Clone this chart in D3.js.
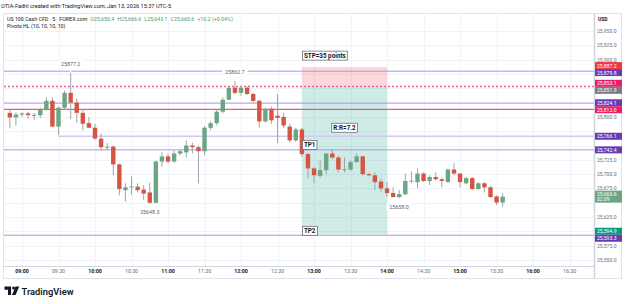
<!DOCTYPE html>
<html>
<head>
<meta charset="utf-8">
<script src="https://cdn.jsdelivr.net/npm/d3@7"></script>
<style>
  body { margin: 0; background: #fff; }
  svg { display: block; font-family: Roboto, "Noto Sans", sans-serif; }
</style>
</head>
<body>
<div id="container"></div>
<script>
// 5 minute bars, US 100 Cash CFD, Jan 13 2026, first bar 08:50
const startTime = new Date(2026, 0, 13, 8, 50);
const barMinutes = 5;

const opens = [25807, 25799, 25804, 25806, 25803, 25803, 25813, 25828, 25783, 25816,
  25842, 25825, 25807, 25789, 25781, 25762, 25747, 25748, 25717, 25672,
  25678, 25678, 25673, 25668, 25650, 25722, 25731, 25722, 25736, 25738,
  25750, 25747, 25740, 25781, 25789, 25809, 25830, 25851, 25842, 25851,
  25840, 25828, 25792, 25814, 25802, 25800, 25783, 25759, 25778, 25735,
  25710, 25697, 25707, 25736, 25729, 25708, 25708, 25721, 25731, 25700,
  25698, 25687, 25675, 25667, 25660, 25665, 25688, 25686, 25701, 25688,
  25695, 25691, 25686, 25708, 25701, 25684, 25693, 25674, 25684, 25677,
  25661, 25650.4];
const highs = [25812, 25808, 25808, 25809, 25807, 25816, 25834, 25834, 25818, 25846,
  25877.2, 25832, 25814, 25800, 25788, 25771, 25754, 25750, 25718, 25684,
  25696, 25684, 25681, 25685, 25724, 25738, 25736, 25741, 25744, 25759,
  25755, 25750, 25784, 25792, 25813, 25834, 25852, 25862.7, 25854, 25853,
  25842, 25830, 25816, 25818, 25840, 25807, 25788, 25781, 25781, 25737,
  25712, 25724, 25737, 25743, 25732, 25729, 25724, 25736, 25732, 25702,
  25703, 25692, 25686, 25677, 25672, 25701, 25705, 25710, 25703, 25698,
  25703, 25694, 25710, 25719, 25702, 25695, 25695, 25686, 25686, 25679,
  25663, 25666.6];
const lows = [25780, 25785, 25800, 25797, 25795, 25798, 25811, 25782, 25769, 25813,
  25796, 25790, 25776, 25780, 25760, 25741, 25741, 25698, 25663, 25652,
  25664, 25668, 25655, 25648.3, 25649, 25713, 25719, 25720, 25733, 25729,
  25736, 25684, 25733, 25777, 25785, 25806, 25829, 25840, 25837, 25838,
  25825, 25781, 25790, 25788, 25754, 25780, 25755, 25756, 25730, 25693,
  25684, 25694, 25700, 25726, 25703, 25703, 25706, 25720, 25698, 25696,
  25672, 25669, 25660, 25659, 25658, 25663, 25684, 25675, 25686, 25681,
  25689, 25677, 25686, 25698, 25677, 25682, 25672, 25672, 25668, 25658.5,
  25646, 25643.1];
const closes = [25799, 25804, 25806, 25803, 25803.5, 25813, 25828, 25783, 25816, 25842,
  25825, 25807, 25788, 25781, 25762, 25747, 25748, 25717, 25674, 25677,
  25678.5, 25672, 25666, 25650, 25722, 25731, 25722, 25736, 25740, 25750,
  25747, 25740, 25781, 25789, 25809, 25830, 25851, 25842, 25851, 25840,
  25828, 25792, 25814, 25794, 25798, 25785, 25759, 25778, 25735, 25710,
  25698, 25707, 25736, 25729, 25708, 25708.5, 25721, 25731, 25700, 25698,
  25686, 25675, 25667, 25660, 25665, 25688, 25688.5, 25701, 25688, 25695,
  25691, 25688, 25708, 25701, 25686, 25693, 25674, 25684, 25677, 25660,
  25650.4, 25660.6];

// Pivots HL (10,10,10,10) labels: bar index and kind
const pivotBars = [10, 23, 37, 64];
const pivotKinds = ["high", "low", "high", "low"];

// time and price ticks
const timeTicks = ["09:00", "09:30", "10:00", "10:30", "11:00", "11:30", "12:00", "12:30",
  "13:00", "13:30", "14:00", "14:30", "15:00", "15:30", "16:00", "16:30"];
const priceTicks = d3.range(25550, 25951, 25);

// horizontal levels drawn on the chart
const levelPrices = [25879.8, 25853.1, 25824.1, 25813.0, 25766.1, 25742.4, 25593.3];
const levelColors = ["#a897dc", "#f06292", "#a897dc", "#e8577d", "#d3c8f3", "#a897dc", "#a897dc"];
const levelWidths = [1, 1.6, 1, 1.2, 1.6, 1, 1];
const levelDashes = [null, "2,2", null, null, null, null, null];
const levelStarts = [null, null, null, null, "09:30", null, null];

// long position tool
const posStart = "12:50";
const posEnd = "14:00";
const posStop = 25887.2;
const posEntry = 25851.9;
const posTarget = 25594.9;

// text annotations (anchor time, price, text, align)
const noteTexts = ["STP=35 points", "R:R=7.2", "TP1", "TP2"];
const noteTimes = ["12:50", "13:25", "12:50", "12:50"];
const notePrices = [25907, 25781, 25751, 25601];
const noteAligns = ["start", "middle", "start", "start"];

// price scale labels
const axisLabelPrices = [25887.2, 25879.8, 25853.1, 25851.9, 25824.1, 25813.0, 25766.1, 25742.4, 25660.6, 25594.9, 25593.3];
const axisLabelColors = ["#f23645", "#673ab7", "#e91e63", "#787b86", "#673ab7", "#e91e63", "#673ab7", "#673ab7", "#6ba583", "#089981", "#673ab7"];
const axisLabelExtra = [null, null, null, null, null, null, null, null, "02:09", null, null];

const W = 625, H = 304;
const plot = { left: 4, right: 594, top: 13, bottom: 266 };
const upColor = "#6ba583", downColor = "#d75442", wickColor = "#a3a3a8";

const atTime = s => {
  const [h, m] = s.split(":").map(Number);
  return new Date(2026, 0, 13, h, m);
};
const times = opens.map((_, i) => new Date(+startTime + i * barMinutes * 60000));

const x = d3.scaleTime()
  .domain([atTime("09:00"), atTime("16:30")])
  .range([22, 569.6]);
const y = d3.scaleLinear()
  .domain([25550, 25950])
  .range([260, 31]);

const svg = d3.create("svg")
  .attr("width", W)
  .attr("height", H);
document.getElementById("container").append(svg.node());

svg.append("rect").attr("width", W).attr("height", H).attr("fill", "#fff");

// header
svg.append("text")
  .attr("x", 1).attr("y", 8)
  .style("font-size", "5.6px").style("fill", "#131722")
  .text("OTIA-Fadhl created with TradingView.com, Jan 13, 2026 15:37 UTC-5");

// frame
svg.append("rect")
  .attr("x", 3.5).attr("y", 13.5)
  .attr("width", 618).attr("height", 265)
  .attr("fill", "none").attr("stroke", "#e0e3eb");

const defs = svg.append("defs");
defs.append("clipPath").attr("id", "plotclip")
  .append("rect")
  .attr("x", plot.left).attr("y", plot.top)
  .attr("width", plot.right - plot.left).attr("height", plot.bottom - plot.top);

// grid
const grid = svg.append("g").attr("clip-path", "url(#plotclip)");
grid.selectAll(".vg").data(timeTicks).join("line")
  .attr("x1", d => Math.round(x(atTime(d))) + 0.5).attr("x2", d => Math.round(x(atTime(d))) + 0.5)
  .attr("y1", plot.top).attr("y2", plot.bottom)
  .attr("stroke", "#f0f3fa");
grid.selectAll(".hg").data(priceTicks).join("line")
  .attr("x1", plot.left).attr("x2", plot.right)
  .attr("y1", d => Math.round(y(d)) + 0.5).attr("y2", d => Math.round(y(d)) + 0.5)
  .attr("stroke", "#f0f3fa");

const g = svg.append("g").attr("clip-path", "url(#plotclip)");

// position tool zones
g.append("rect")
  .attr("x", x(atTime(posStart))).attr("width", x(atTime(posEnd)) - x(atTime(posStart)))
  .attr("y", y(posStop)).attr("height", y(posEntry) - y(posStop))
  .attr("fill", "rgba(242,54,69,0.2)");
g.append("rect")
  .attr("x", x(atTime(posStart))).attr("width", x(atTime(posEnd)) - x(atTime(posStart)))
  .attr("y", y(posEntry)).attr("height", y(posTarget) - y(posEntry))
  .attr("fill", "rgba(8,153,129,0.2)");

// levels
levelPrices.forEach((p, i) => {
  g.append("line")
    .attr("x1", levelStarts[i] ? x(atTime(levelStarts[i])) : plot.left)
    .attr("x2", plot.right)
    .attr("y1", y(p)).attr("y2", y(p))
    .attr("stroke", levelColors[i])
    .attr("stroke-width", levelWidths[i])
    .attr("stroke-dasharray", levelDashes[i]);
});

// candles
const bw = 4.4;
times.forEach((t, i) => {
  const cx = x(t);
  const up = closes[i] >= opens[i];
  const col = up ? upColor : downColor;
  g.append("line")
    .attr("x1", cx).attr("x2", cx)
    .attr("y1", y(highs[i])).attr("y2", y(lows[i]))
    .attr("stroke", wickColor).attr("stroke-width", 1);
  const top = y(Math.max(opens[i], closes[i]));
  const bot = y(Math.min(opens[i], closes[i]));
  g.append("rect")
    .attr("x", cx - bw / 2).attr("width", bw)
    .attr("y", top).attr("height", Math.max(0.9, bot - top))
    .attr("fill", col);
});

// pivot labels
pivotBars.forEach((b, i) => {
  const isHigh = pivotKinds[i] === "high";
  const val = isHigh ? highs[b] : lows[b];
  const cx = x(times[b]);
  const cy = isHigh ? y(val) - 8.5 : y(val) + 8.5;
  const lab = g.append("g");
  if (isHigh) {
    lab.append("line").attr("x1", cx).attr("x2", cx)
      .attr("y1", cy + 3).attr("y2", y(val)).attr("stroke", "#fff").attr("stroke-width", 1.5);
  }
  const t = lab.append("text")
    .attr("x", cx).attr("y", cy)
    .attr("text-anchor", "middle").attr("dominant-baseline", "central")
    .style("font-size", "5.3px").style("fill", "#5d606b")
    .text(d3.format(".1f")(val));
  const bb = t.node().getBBox();
  lab.insert("rect", "text")
    .attr("x", bb.x - 3).attr("y", bb.y - 1)
    .attr("width", bb.width + 6).attr("height", bb.height + 2)
    .attr("fill", "#fff");
});

// annotation boxes
noteTexts.forEach((s, i) => {
  const ax = x(atTime(noteTimes[i]));
  const ay = y(notePrices[i]);
  const lab = g.append("g");
  const t = lab.append("text")
    .attr("x", noteAligns[i] === "start" ? ax + 2 : ax).attr("y", ay)
    .attr("text-anchor", noteAligns[i]).attr("dominant-baseline", "central")
    .style("font-size", "6.3px").style("font-weight", "bold").style("fill", "#131722")
    .text(s);
  const bb = t.node().getBBox();
  lab.insert("rect", "text")
    .attr("x", bb.x - 1.5).attr("y", bb.y - 0.5)
    .attr("width", bb.width + 3).attr("height", bb.height + 1)
    .attr("fill", "#fff").attr("stroke", "#5d606b").attr("stroke-width", 0.7);
});

// time axis
svg.append("line")
  .attr("x1", 3.5).attr("x2", plot.right)
  .attr("y1", plot.bottom + 0.5).attr("y2", plot.bottom + 0.5)
  .attr("stroke", "#d1d4dc");
svg.append("g").selectAll("text").data(timeTicks).join("text")
  .attr("x", d => x(atTime(d))).attr("y", 272.5)
  .attr("text-anchor", "middle")
  .style("font-size", "5.3px")
  .style("font-weight", d => d.endsWith(":00") ? "bold" : "normal")
  .style("fill", d => d.endsWith(":00") ? "#131722" : "#6a6d78")
  .text(d => d);

// colored price labels, spread apart when they overlap
const labH = 7;
const labs = axisLabelPrices.map((p, i) => ({
  p, i, h: axisLabelExtra[i] ? 12 : labH, c: y(p)
}));
labs.sort((a, b) => a.c - b.c);
for (let k = 0; k < 60; k++) {
  for (let j = 1; j < labs.length; j++) {
    const a = labs[j - 1], b = labs[j];
    const gap = (a.h + b.h) / 2 - (b.c - a.c);
    if (gap > 0) { a.c -= gap / 2; b.c += gap / 2; }
  }
}

// price axis
svg.append("rect")
  .attr("x", plot.right).attr("y", 14).attr("width", 27).attr("height", 264)
  .attr("fill", "#fff");
svg.append("line")
  .attr("x1", plot.right + 0.5).attr("x2", plot.right + 0.5)
  .attr("y1", plot.top).attr("y2", 278.5)
  .attr("stroke", "#d1d4dc").attr("stroke-width", 1.5);
svg.append("text")
  .attr("x", 598).attr("y", 21)
  .style("font-size", "5px").style("font-weight", "bold").style("fill", "#131722")
  .text("USD");
// tick labels that sit under a colored label are hidden, as the price scale does
const freeTicks = priceTicks.filter(d => labs.every(l => Math.abs(y(d) - l.c) > l.h / 2 + 2.2));
svg.append("g").selectAll("text").data(freeTicks).join("text")
  .attr("x", 597).attr("y", d => y(d))
  .attr("dominant-baseline", "central")
  .style("font-size", "5.1px").style("fill", "#6a6d78")
  .text(d => d3.format(",.1f")(d));

const lg = svg.append("g");
labs.forEach(l => {
  lg.append("rect")
    .attr("x", 595).attr("y", l.c - l.h / 2)
    .attr("width", 27).attr("height", l.h)
    .attr("fill", axisLabelColors[l.i]);
  lg.append("text")
    .attr("x", 597).attr("y", axisLabelExtra[l.i] ? l.c - 2.5 : l.c)
    .attr("dominant-baseline", "central")
    .style("font-size", "5.1px").style("fill", "#fff")
    .text(d3.format(",.1f")(l.p));
  if (axisLabelExtra[l.i]) {
    lg.append("text")
      .attr("x", 597).attr("y", l.c + 2.8)
      .attr("dominant-baseline", "central")
      .style("font-size", "5.1px").style("fill", "#fff")
      .text(axisLabelExtra[l.i]);
  }
});

// legend lines
const last = opens.length - 1;
const chg = closes[last] - closes[last - 1];
const leg = svg.append("text")
  .attr("x", 7).attr("y", 21)
  .style("font-size", "5.3px").style("fill", "#131722");
leg.append("tspan").text("US 100 Cash CFD · 5 · FOREX.com");
const vcol = "#4f9a70";
[["O", opens[last]], ["H", highs[last]], ["L", lows[last]], ["C", closes[last]]].forEach(([k, v]) => {
  leg.append("tspan").attr("dx", 3).style("fill", vcol).text(k + d3.format(",.1f")(v));
});
leg.append("tspan").attr("dx", 3).style("fill", vcol)
  .text(`+${chg.toFixed(1)} (+${(chg / closes[last - 1] * 100).toFixed(2)}%)`);
svg.append("text")
  .attr("x", 7).attr("y", 27.5)
  .style("font-size", "5.3px").style("fill", "#131722")
  .text("Pivots HL (10, 10, 10, 10)");

// TradingView logo
const logo = svg.append("g").attr("fill", "#131722");
logo.append("path").attr("d", "M4.5,286.5 h6.6 v8.6 h-3.1 v-5.4 h-3.5 z");
logo.append("circle").attr("cx", 13.6).attr("cy", 288).attr("r", 1.5);
logo.append("path").attr("d", "M15.6,286.5 h3.6 l-3.6,8.6 h-3.6 z");
svg.append("text")
  .attr("x", 21.5).attr("y", 294.8)
  .style("font-size", "9.3px").style("font-weight", "600").style("fill", "#131722")
  .text("TradingView");
</script>
</body>
</html>
